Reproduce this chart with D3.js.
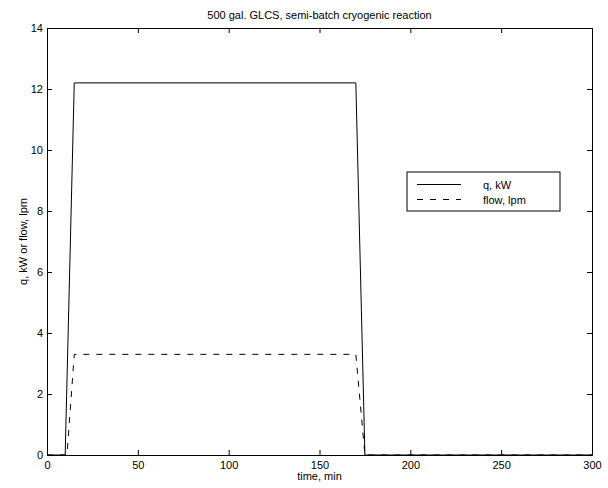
<!DOCTYPE html>
<html>
<head>
<meta charset="utf-8">
<script src="https://cdn.jsdelivr.net/npm/d3@7"></script>
<style>
  body { margin: 0; background: #fff; }
  text { font-family: "Liberation Sans", Arial, sans-serif; }
</style>
</head>
<body>
<div id="chart"></div>
<script>
// series (time in min)
var qTime = [0, 10, 15, 170, 175, 300];
var qVal = [0, 0, 12.2, 12.2, 0, 0];
var flowTime = [0, 11, 15, 170, 175, 300];
var flowVal = [0, 0, 3.3, 3.3, 0, 0];
var xTicks = [0, 50, 100, 150, 200, 250, 300];
var yTicks = [0, 2, 4, 6, 8, 10, 12, 14];
var legendLabels = ["q, kW", "flow, lpm"];

var width = 608, height = 488;
var margin = {left: 47, top: 28, right: 16, bottom: 33};
var w = width - margin.left - margin.right;
var h = height - margin.top - margin.bottom;

var svg = d3.select("#chart")
    .append("svg")
    .attr("width", width)
    .attr("height", height);

var g = svg.append("g")
    .attr("transform", "translate(" + margin.left + "," + margin.top + ")");

var x = d3.scaleLinear().domain([0, 300]).range([0, w]);
var y = d3.scaleLinear().domain([0, 14]).range([h, 0]);

// axes, ticks pointing inward on all sides
function styleAxis(sel) {
    sel.select(".domain").attr("stroke", "#000");
    sel.selectAll(".tick line").attr("stroke", "#000");
    sel.selectAll("text")
        .attr("fill", "#000")
        .style("font-size", "11px")
        .style("font-family", "'Liberation Sans', Arial, sans-serif");
}

g.append("g")
    .attr("transform", "translate(0," + h + ")")
    .call(d3.axisBottom(x).tickValues(xTicks).tickSize(-5).tickSizeOuter(0).tickPadding(6))
    .call(styleAxis);

g.append("g")
    .call(d3.axisTop(x).tickValues(xTicks).tickSize(-5).tickSizeOuter(0).tickFormat(""))
    .call(styleAxis);

g.append("g")
    .call(d3.axisLeft(y).tickValues(yTicks).tickSize(-5).tickSizeOuter(0).tickPadding(4))
    .call(styleAxis);

g.append("g")
    .attr("transform", "translate(" + w + ",0)")
    .call(d3.axisRight(y).tickValues(yTicks).tickSize(-5).tickSizeOuter(0).tickFormat(""))
    .call(styleAxis);

var qData = qTime.map(function(t, i) { return {t: t, v: qVal[i]}; });
var flowData = flowTime.map(function(t, i) { return {t: t, v: flowVal[i]}; });

var line = d3.line()
    .x(function(d) { return x(d.t); })
    .y(function(d) { return y(d.v); });

g.append("path")
    .datum(flowData)
    .attr("fill", "none")
    .attr("stroke", "#000")
    .attr("stroke-width", 1)
    .attr("stroke-dasharray", "6,7")
    .attr("d", line);

g.append("path")
    .datum(qData)
    .attr("fill", "none")
    .attr("stroke", "#000")
    .attr("stroke-width", 1)
    .attr("d", line);

// title and axis labels
svg.append("text")
    .attr("x", margin.left + w / 2)
    .attr("y", 19)
    .attr("text-anchor", "middle")
    .style("font-size", "11px")
    .text("500 gal. GLCS, semi-batch cryogenic reaction");

svg.append("text")
    .attr("x", margin.left + w / 2)
    .attr("y", 480)
    .attr("text-anchor", "middle")
    .style("font-size", "11px")
    .text("time, min");

svg.append("text")
    .attr("transform", "translate(27," + (margin.top + h / 2) + ") rotate(-90)")
    .attr("text-anchor", "middle")
    .style("font-size", "11px")
    .text("q, kW or flow, lpm");

// legend
var legend = svg.append("g").attr("transform", "translate(407,172)");
legend.append("rect")
    .attr("width", 153)
    .attr("height", 39)
    .attr("fill", "#fff")
    .attr("stroke", "#000")
    .attr("stroke-width", 1);

var dashes = [null, "6,7"];
legendLabels.forEach(function(lbl, i) {
    var yy = 12.5 + i * 15;
    legend.append("line")
        .attr("x1", 10).attr("x2", 54)
        .attr("y1", yy).attr("y2", yy)
        .attr("stroke", "#000")
        .attr("stroke-width", 1)
        .attr("stroke-dasharray", dashes[i]);
    legend.append("text")
        .attr("x", 76)
        .attr("y", yy + 4)
        .style("font-size", "11px")
        .text(lbl);
});
</script>
</body>
</html>
